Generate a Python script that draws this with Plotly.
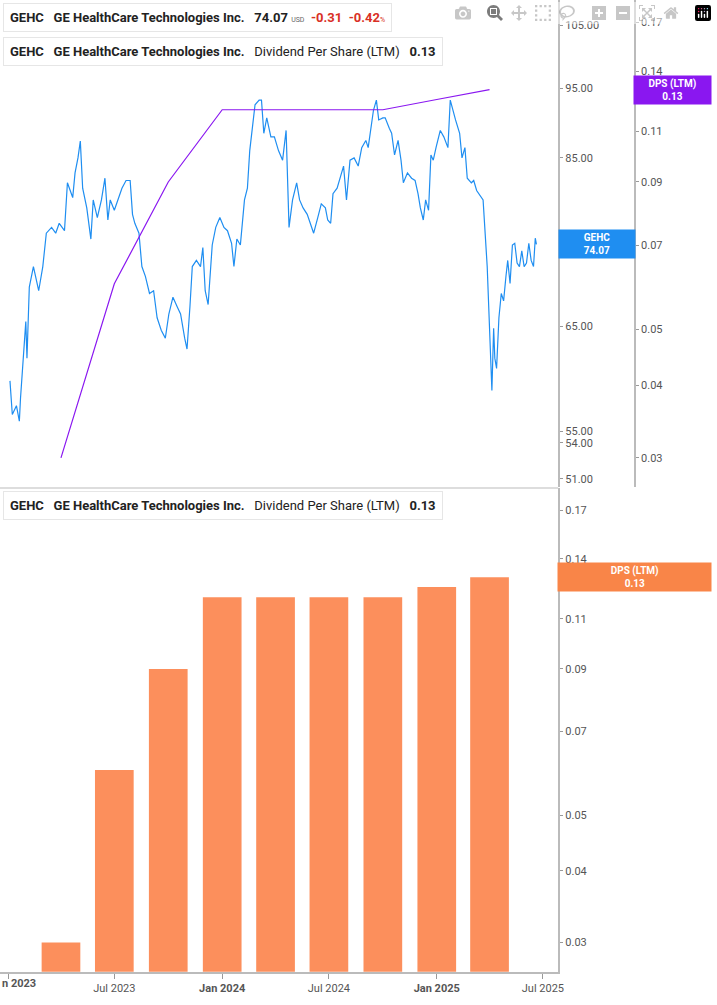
import datetime as dt
import plotly.graph_objects as go

# GEHC daily close (approx), as days since 2023-01-01
price_days = [3, 7, 14, 19, 21, 25, 30, 32, 36, 43, 52, 59, 65, 74, 81, 87, 96, 101, 110, 114,
              119, 123, 127, 134, 141, 145, 152, 159, 165, 170, 174, 181, 188, 194, 201, 208, 212, 216, 223, 228,
              234, 241, 248, 254, 261, 268, 274, 281, 288, 294, 301, 305, 310, 314, 321, 328, 332, 336, 341, 348,
              354, 361, 368, 374, 381, 385, 390, 396, 403, 408, 412, 416, 421, 428, 432, 436, 441, 448, 454, 461,
              468, 474, 479, 485, 492, 497, 503, 510, 517, 521, 528, 534, 541, 545, 550, 554, 561, 568, 572, 577,
              583, 590, 597, 603, 610, 614, 619, 623, 628, 632, 639, 643, 650, 654, 659, 665, 670, 674, 681, 688,
              694, 699, 703, 708, 712, 717, 721, 725, 730, 737, 743, 750, 754, 759, 763, 770, 774, 779, 783, 790,
              794, 799, 810, 817, 820, 823, 825, 828, 830, 833, 837, 841, 845, 849, 852, 856, 860, 864, 868, 872,
              876, 880, 884, 888, 892, 896, 899, 901]
price = [59.6, 56.5, 57.3, 55.9, 58.0, 61.6, 65.5, 61.8, 69.2, 71.5, 68.8, 71.5, 75.4, 76.1, 75.4, 76.6, 75.7, 81.7, 79.8, 83.0,
         85.0, 87.3, 81.0, 78.5, 74.7, 79.5, 77.3, 79.5, 82.3, 77.0, 79.5, 78.2, 79.8, 81.0, 82.0, 82.0, 77.7, 76.6, 75.4, 71.5,
         70.4, 68.5, 68.8, 65.9, 64.6, 63.8, 66.3, 68.1, 67.1, 66.3, 63.8, 62.7, 67.1, 71.5, 72.2, 71.5, 73.7, 68.8, 67.3, 74.0,
         76.1, 77.3, 76.1, 75.7, 74.2, 71.5, 74.7, 74.0, 79.5, 81.0, 86.0, 88.8, 92.5, 93.2, 93.2, 88.4, 90.6, 87.9, 87.9, 86.0,
         84.7, 88.8, 76.1, 79.5, 81.7, 79.5, 78.5, 77.7, 76.1, 75.4, 77.3, 79.0, 78.5, 77.0, 76.6, 80.3, 81.0, 83.0, 83.9, 79.5,
         84.7, 85.0, 83.9, 86.4, 87.4, 86.4, 89.1, 91.7, 93.2, 90.3, 90.6, 90.6, 89.1, 88.4, 85.4, 87.4, 84.7, 81.7, 83.0, 82.3,
         82.0, 80.3, 78.5, 77.0, 79.5, 78.2, 85.4, 84.7, 86.5, 88.8, 87.9, 86.4, 93.2, 91.5, 90.3, 88.4, 85.0, 86.4, 82.3, 81.7,
         82.0, 80.7, 79.5, 71.5, 65.9, 61.2, 58.7, 64.8, 61.8, 60.8, 65.9, 68.5, 67.7, 70.4, 72.2, 69.6, 74.0, 74.2, 71.9, 71.5,
         73.3, 71.5, 71.9, 74.2, 72.2, 71.5, 74.8, 74.07]

dps_dates = ["2023-04-01", "2023-07-01", "2023-10-01", "2024-01-01", "2024-04-01",
             "2024-07-01", "2024-10-01", "2025-01-01", "2025-04-01"]
dps = [0.03, 0.06, 0.09, 0.12, 0.12, 0.12, 0.12, 0.125, 0.13]

price_ticks = [51, 54, 55, 65, 75, 85, 95, 105]
dps_ticks = [0.03, 0.04, 0.05, 0.07, 0.09, 0.11, 0.14, 0.17]
x_ticks = ["2023-07-01", "2024-01-01", "2024-07-01", "2025-01-01", "2025-07-01"]
x_labels = ["Jul 2023", "<b>Jan 2024</b>", "Jul 2024", "<b>Jan 2025</b>", "Jul 2025"]

BLUE = "#1f8ef1"
PURPLE = "#8a17f0"
ORANGE = "#fc8f5c"
GREY = "#555555"

start = dt.date(2023, 1, 1)
price_dates = [start + dt.timedelta(days=d) for d in price_days]

fig = go.Figure()
fig.add_trace(go.Scatter(x=price_dates, y=price, mode="lines", line=dict(color=BLUE, width=1.2),
                         xaxis="x", yaxis="y"))
fig.add_trace(go.Scatter(x=dps_dates, y=dps, mode="lines", line=dict(color=PURPLE, width=1.2),
                         xaxis="x", yaxis="y3"))
fig.add_trace(go.Bar(x=dps_dates, y=dps, marker=dict(color=ORANGE, line=dict(width=0)),
                     width=66 * 86400000, xaxis="x2", yaxis="y2"))

xr = ["2022-12-18", "2025-07-27"]
dps_range = [-1.574, -0.731]
tickfont = dict(family="Roboto", size=11, color=GREY)

fig.update_layout(
    width=717, height=1005, margin=dict(l=0, r=0, t=0, b=0),
    paper_bgcolor="white", plot_bgcolor="white", showlegend=False,
    font=dict(family="Roboto"),
    xaxis=dict(domain=[0, 0.785], range=xr, anchor="y", showticklabels=False,
               showgrid=False, zeroline=False, showline=False),
    xaxis2=dict(domain=[0, 0.785], range=xr, anchor="y2", tickvals=["2023-01-01"] + x_ticks,
                ticktext=[""] + x_labels,
                ticks="outside", ticklen=5, tickcolor="#999", showgrid=False, showline=True,
                linecolor="#bbbbbb", linewidth=2, tickfont=tickfont),
    yaxis=dict(domain=[0.515, 1], type="log", range=[1.7016, 2.0386], side="right", anchor="x",
               tickvals=price_ticks, ticktext=[f"{v:.2f}" for v in price_ticks],
               ticks="outside", ticklen=3, tickcolor="#999", showgrid=False, showline=True,
               linecolor="#bbbbbb", linewidth=2, tickfont=tickfont),
    yaxis3=dict(type="log", range=dps_range, overlaying="y", side="right", anchor="free",
                position=0.893, tickvals=dps_ticks, ticktext=[f"{v:.2f}" for v in dps_ticks],
                ticks="outside", ticklen=3, tickcolor="#999", showgrid=False, showline=True,
                linecolor="#bbbbbb", linewidth=2, tickfont=tickfont),
    yaxis2=dict(domain=[0.033, 0.514], type="log", range=dps_range, side="right", anchor="x2",
                tickvals=dps_ticks, ticktext=[f"{v:.2f}" for v in dps_ticks],
                ticks="outside", ticklen=3, tickcolor="#999", showgrid=False, showline=True,
                linecolor="#bbbbbb", linewidth=2, tickfont=tickfont),
)

# cut-off first tick label at the left edge
fig.add_annotation(xref="paper", yref="paper", x=0, y=0.021, xanchor="left", yanchor="middle",
                   text="<b>n 2023</b>", showarrow=False, font=tickfont)

# separator between panels
fig.add_shape(type="line", xref="paper", yref="paper", x0=0, x1=0.785, y0=0.5145, y1=0.5145,
              line=dict(color="#dddddd", width=2))

# value tags on the axes
def tag(text, color, x0, x1, yc, h):
    fig.add_annotation(xref="paper", yref="paper", x=(x0 + x1) / 2, y=yc, text=text, showarrow=False,
                       xanchor="center", yanchor="middle",
                       font=dict(family="Roboto", size=10, color="white"), bgcolor=color,
                       width=(x1 - x0) * 717 - 2, height=h, align="center")

tag("<b>GEHC</b><br><b>74.07</b>", BLUE, 0.786, 0.892, 1 - 244 / 1005, 26)
tag("<b>DPS (LTM)</b><br><b>0.13</b>", PURPLE, 0.893, 1.0, 1 - 90 / 1005, 26)
tag("<b>DPS (LTM)</b><br><b>0.13</b>", "#f98548", 0.786, 1.0, 1 - 577 / 1005, 26)

# legend boxes
def legend_box(text, color, y_top):
    yc = 1 - (y_top + 14) / 1005
    fig.add_annotation(xref="paper", yref="paper", x=3 / 717, y=yc, xanchor="left", yanchor="middle",
                       text=text, showarrow=False, font=dict(family="Roboto", size=13, color="#222"),
                       bgcolor="white", bordercolor="#e6e6e6", borderwidth=1, borderpad=6)
    fig.add_shape(type="line", xref="paper", yref="paper", x0=5 / 717, x1=5 / 717,
                  y0=1 - (y_top + 3) / 1005, y1=1 - (y_top + 25) / 1005,
                  line=dict(color=color, width=3))

legend_box("<b>GEHC</b>   <b>GE HealthCare Technologies Inc.</b>   <b>74.07</b> "
           "<span style='font-size:7px;color:#666'>USD</span>  "
           "<span style='color:#d93025'><b>-0.31</b>  <b>-0.42</b></span>"
           "<span style='font-size:7px;color:#d93025'>%</span>", BLUE, 4)
legend_box("<b>GEHC</b>   <b>GE HealthCare Technologies Inc.</b>   Dividend Per Share (LTM)   <b>0.13</b>",
           PURPLE, 38)
legend_box("<b>GEHC</b>   <b>GE HealthCare Technologies Inc.</b>   Dividend Per Share (LTM)   <b>0.13</b>",
           "#f98548", 491)

fig.write_html("out.html", post_script="document.body.style.margin='0';")
